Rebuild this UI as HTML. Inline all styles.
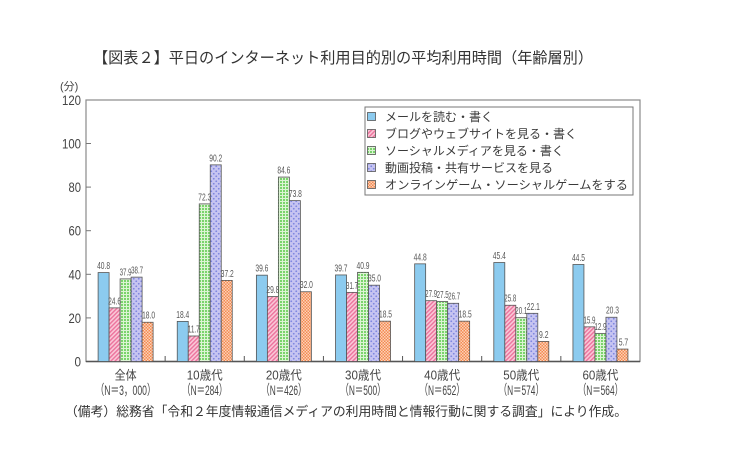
<!DOCTYPE html>
<html><head><meta charset="utf-8">
<style>
html,body{margin:0;padding:0;background:#fff;}
svg{display:block;}
text{font-family:"Liberation Sans","Noto Sans CJK JP",sans-serif;fill:#3a3a3a;}
.v{font-size:10.5px;fill:#555;text-anchor:middle;}
.yt{font-size:13.5px;fill:#444;text-anchor:end;}
.xl{font-size:12.5px;fill:#444;text-anchor:middle;}
.xn{font-size:14px;fill:#444;text-anchor:middle;}
.lg{font-size:12px;fill:#3a3a3a;}
</style></head><body>
<svg width="730" height="456" viewBox="0 0 730 456" xmlns="http://www.w3.org/2000/svg">
<defs>
<pattern id="pk" width="3" height="3" patternUnits="userSpaceOnUse" patternTransform="rotate(45)">
 <rect width="3" height="3" fill="#fac8d8"/>
 <rect width="1.4" height="3" fill="#ec729c"/>
</pattern>
<pattern id="gr" width="3" height="3" patternUnits="userSpaceOnUse">
 <rect width="3" height="3" fill="#7ad46c"/>
 <rect width="3" height="1" fill="#dcf4d4"/>
 <rect width="1" height="3" fill="#dcf4d4"/>
</pattern>
<pattern id="pu" width="5" height="5" patternUnits="userSpaceOnUse">
 <rect width="5" height="5" fill="#c6c4f1"/>
 <circle cx="1.25" cy="1.25" r="0.9" fill="#7d86e0"/>
 <circle cx="3.75" cy="3.75" r="0.9" fill="#7d86e0"/>
</pattern>
<pattern id="or" width="3" height="3" patternUnits="userSpaceOnUse">
 <rect width="3" height="3" fill="#f38a52"/>
 <rect x="0" y="0" width="1.5" height="1.5" fill="#fcd2b8"/>
 <rect x="1.5" y="1.5" width="1.5" height="1.5" fill="#fcd2b8"/>
</pattern>
</defs>

<text x="93" y="63" style="font-size:15.4px;fill:#333" textLength="500" lengthAdjust="spacingAndGlyphs">【図表２】平日のインターネット利用目的別の平均利用時間（年齢層別）</text>

<text x="60" y="90" style="font-size:11px;fill:#444">(分)</text>

<rect x="86" y="100" width="554" height="261.5" fill="none" stroke="#8a8a8a" stroke-width="1.2"/>
<line x1="86" y1="361.5" x2="640" y2="361.5" stroke="#555" stroke-width="1.5"/>

<g stroke="#777" stroke-width="1">
<line x1="86" y1="143.5" x2="91" y2="143.5"/>
<line x1="86" y1="187.1" x2="91" y2="187.1"/>
<line x1="86" y1="230.7" x2="91" y2="230.7"/>
<line x1="86" y1="274.3" x2="91" y2="274.3"/>
<line x1="86" y1="317.9" x2="91" y2="317.9"/>
</g>
<text class="yt" x="81" y="105" textLength="19" lengthAdjust="spacingAndGlyphs">120</text>
<text class="yt" x="81" y="148.5" textLength="19" lengthAdjust="spacingAndGlyphs">100</text>
<text class="yt" x="81" y="192.1" textLength="12.5" lengthAdjust="spacingAndGlyphs">80</text>
<text class="yt" x="81" y="235.7" textLength="12.5" lengthAdjust="spacingAndGlyphs">60</text>
<text class="yt" x="81" y="279.3" textLength="12.5" lengthAdjust="spacingAndGlyphs">40</text>
<text class="yt" x="81" y="322.9" textLength="12.5" lengthAdjust="spacingAndGlyphs">20</text>
<text class="yt" x="81" y="366.5" textLength="6.5" lengthAdjust="spacingAndGlyphs">0</text>

<g stroke="#555" stroke-width="1">
<line x1="165.14" y1="361.5" x2="165.14" y2="356"/>
<line x1="244.28" y1="361.5" x2="244.28" y2="356"/>
<line x1="323.42" y1="361.5" x2="323.42" y2="356"/>
<line x1="402.56" y1="361.5" x2="402.56" y2="356"/>
<line x1="481.7" y1="361.5" x2="481.7" y2="356"/>
<line x1="560.84" y1="361.5" x2="560.84" y2="356"/>
</g>

<g stroke="#555" stroke-width="0.8">
<rect x="98.1" y="272.56" width="11" height="88.94" fill="#8ccbef"/>
<rect x="109.1" y="307.87" width="11" height="53.63" fill="url(#pk)"/>
<rect x="120.1" y="278.88" width="11" height="82.62" fill="url(#gr)"/>
<rect x="131.1" y="277.13" width="11" height="84.37" fill="url(#pu)"/>
<rect x="142.1" y="322.26" width="11" height="39.24" fill="url(#or)"/>

<rect x="177.24" y="321.39" width="11" height="40.11" fill="#8ccbef"/>
<rect x="188.24" y="335.99" width="11" height="25.51" fill="url(#pk)"/>
<rect x="199.24" y="203.89" width="11" height="157.61" fill="url(#gr)"/>
<rect x="210.24" y="164.86" width="11" height="196.64" fill="url(#pu)"/>
<rect x="221.24" y="280.4" width="11" height="81.1" fill="url(#or)"/>

<rect x="256.38" y="275.17" width="11" height="86.33" fill="#8ccbef"/>
<rect x="267.38" y="296.54" width="11" height="64.96" fill="url(#pk)"/>
<rect x="278.38" y="177.07" width="11" height="184.43" fill="url(#gr)"/>
<rect x="289.38" y="200.62" width="11" height="160.88" fill="url(#pu)"/>
<rect x="300.38" y="291.74" width="11" height="69.76" fill="url(#or)"/>

<rect x="335.52" y="274.95" width="11" height="86.55" fill="#8ccbef"/>
<rect x="346.52" y="292.39" width="11" height="69.11" fill="url(#pk)"/>
<rect x="357.52" y="272.34" width="11" height="89.16" fill="url(#gr)"/>
<rect x="368.52" y="285.2" width="11" height="76.3" fill="url(#pu)"/>
<rect x="379.52" y="321.17" width="11" height="40.33" fill="url(#or)"/>

<rect x="414.66" y="263.84" width="11" height="97.66" fill="#8ccbef"/>
<rect x="425.66" y="300.68" width="11" height="60.82" fill="url(#pk)"/>
<rect x="436.66" y="301.55" width="11" height="59.95" fill="url(#gr)"/>
<rect x="447.66" y="303.29" width="11" height="58.21" fill="url(#pu)"/>
<rect x="458.66" y="321.17" width="11" height="40.33" fill="url(#or)"/>

<rect x="493.8" y="262.53" width="11" height="98.97" fill="#8ccbef"/>
<rect x="504.8" y="305.26" width="11" height="56.24" fill="url(#pk)"/>
<rect x="515.8" y="317.68" width="11" height="43.82" fill="url(#gr)"/>
<rect x="526.8" y="313.32" width="11" height="48.18" fill="url(#pu)"/>
<rect x="537.8" y="341.44" width="11" height="20.06" fill="url(#or)"/>

<rect x="572.94" y="264.49" width="11" height="97.01" fill="#8ccbef"/>
<rect x="583.94" y="326.84" width="11" height="34.66" fill="url(#pk)"/>
<rect x="594.94" y="333.38" width="11" height="28.12" fill="url(#gr)"/>
<rect x="605.94" y="317.25" width="11" height="44.25" fill="url(#pu)"/>
<rect x="616.94" y="349.07" width="11" height="12.43" fill="url(#or)"/>
</g>

<g>
<text class="v" x="103.6" y="269" textLength="13" lengthAdjust="spacingAndGlyphs">40.8</text>
<text class="v" x="114.6" y="304.3" textLength="13" lengthAdjust="spacingAndGlyphs">24.6</text>
<text class="v" x="125.6" y="275.3" textLength="12" lengthAdjust="spacingAndGlyphs">37.9</text>
<text class="v" x="137.1" y="273.6" textLength="12" lengthAdjust="spacingAndGlyphs">38.7</text>
<text class="v" x="148.6" y="318.7" textLength="13" lengthAdjust="spacingAndGlyphs">18.0</text>

<text class="v" x="182.74" y="317.8" textLength="13" lengthAdjust="spacingAndGlyphs">18.4</text>
<text class="v" x="193.74" y="332.4" textLength="12" lengthAdjust="spacingAndGlyphs">11.7</text>
<text class="v" x="204.74" y="200.3" textLength="13" lengthAdjust="spacingAndGlyphs">72.3</text>
<text class="v" x="215.74" y="161.3" textLength="13" lengthAdjust="spacingAndGlyphs">90.2</text>
<text class="v" x="227.24" y="276.8" textLength="13" lengthAdjust="spacingAndGlyphs">37.2</text>

<text class="v" x="261.88" y="271.6" textLength="13" lengthAdjust="spacingAndGlyphs">39.6</text>
<text class="v" x="272.88" y="293" textLength="13" lengthAdjust="spacingAndGlyphs">29.8</text>
<text class="v" x="283.88" y="173.5" textLength="13" lengthAdjust="spacingAndGlyphs">84.6</text>
<text class="v" x="295.38" y="197" textLength="13" lengthAdjust="spacingAndGlyphs">73.8</text>
<text class="v" x="306.38" y="288.2" textLength="13" lengthAdjust="spacingAndGlyphs">32.0</text>

<text class="v" x="341.02" y="271.4" textLength="13" lengthAdjust="spacingAndGlyphs">39.7</text>
<text class="v" x="352.02" y="288.8" textLength="12" lengthAdjust="spacingAndGlyphs">31.7</text>
<text class="v" x="363.02" y="268.8" textLength="13" lengthAdjust="spacingAndGlyphs">40.9</text>
<text class="v" x="374.52" y="281.6" textLength="13" lengthAdjust="spacingAndGlyphs">35.0</text>
<text class="v" x="385.52" y="317.6" textLength="13" lengthAdjust="spacingAndGlyphs">18.5</text>

<text class="v" x="420.16" y="260.3" textLength="13" lengthAdjust="spacingAndGlyphs">44.8</text>
<text class="v" x="431.16" y="297.1" textLength="12" lengthAdjust="spacingAndGlyphs">27.9</text>
<text class="v" x="442.66" y="298" textLength="12" lengthAdjust="spacingAndGlyphs">27.5</text>
<text class="v" x="454.16" y="299.7" textLength="12" lengthAdjust="spacingAndGlyphs">26.7</text>
<text class="v" x="465.16" y="317.6" textLength="13" lengthAdjust="spacingAndGlyphs">18.5</text>

<text class="v" x="499.3" y="259" textLength="13" lengthAdjust="spacingAndGlyphs">45.4</text>
<text class="v" x="510.3" y="301.7" textLength="12" lengthAdjust="spacingAndGlyphs">25.8</text>
<text class="v" x="521.3" y="314.1" textLength="12" lengthAdjust="spacingAndGlyphs">20.1</text>
<text class="v" x="533.3" y="309.8" textLength="13" lengthAdjust="spacingAndGlyphs">22.1</text>
<text class="v" x="543.8" y="337.9" textLength="9.5" lengthAdjust="spacingAndGlyphs">9.2</text>

<text class="v" x="578.44" y="260.9" textLength="13" lengthAdjust="spacingAndGlyphs">44.5</text>
<text class="v" x="589.44" y="323.3" textLength="12" lengthAdjust="spacingAndGlyphs">15.9</text>
<text class="v" x="600.44" y="329.8" textLength="12" lengthAdjust="spacingAndGlyphs">12.9</text>
<text class="v" x="612.44" y="313.7" textLength="13" lengthAdjust="spacingAndGlyphs">20.3</text>
<text class="v" x="623.44" y="345.5" textLength="9.5" lengthAdjust="spacingAndGlyphs">5.7</text>
</g>

<text class="xl" x="125.6" y="379.5" textLength="22" lengthAdjust="spacingAndGlyphs">全体</text>
<text class="xn" x="125.6" y="395" textLength="60" lengthAdjust="spacingAndGlyphs">（N＝3，000）</text>
<text class="xl" x="204.74" y="379.5" textLength="36" lengthAdjust="spacingAndGlyphs">10歳代</text>
<text class="xn" x="204.74" y="395" textLength="45" lengthAdjust="spacingAndGlyphs">（N＝284）</text>
<text class="xl" x="283.88" y="379.5" textLength="36" lengthAdjust="spacingAndGlyphs">20歳代</text>
<text class="xn" x="283.88" y="395" textLength="45" lengthAdjust="spacingAndGlyphs">（N＝426）</text>
<text class="xl" x="363.02" y="379.5" textLength="36" lengthAdjust="spacingAndGlyphs">30歳代</text>
<text class="xn" x="363.02" y="395" textLength="45" lengthAdjust="spacingAndGlyphs">（N＝500）</text>
<text class="xl" x="442.16" y="379.5" textLength="36" lengthAdjust="spacingAndGlyphs">40歳代</text>
<text class="xn" x="442.16" y="395" textLength="45" lengthAdjust="spacingAndGlyphs">（N＝652）</text>
<text class="xl" x="521.3" y="379.5" textLength="36" lengthAdjust="spacingAndGlyphs">50歳代</text>
<text class="xn" x="521.3" y="395" textLength="45" lengthAdjust="spacingAndGlyphs">（N＝574）</text>
<text class="xl" x="600.44" y="379.5" textLength="36" lengthAdjust="spacingAndGlyphs">60歳代</text>
<text class="xn" x="600.44" y="395" textLength="45" lengthAdjust="spacingAndGlyphs">（N＝564）</text>

<rect x="365" y="107" width="268" height="88" fill="#fff" stroke="#777" stroke-width="1"/>
<g stroke="#555" stroke-width="0.8">
<rect x="367.5" y="112.5" width="8" height="8" fill="#8ccbef"/>
<rect x="367.5" y="129.5" width="8" height="8" fill="url(#pk)"/>
<rect x="367.5" y="146.5" width="8" height="8" fill="url(#gr)"/>
<rect x="367.5" y="163.5" width="8" height="8" fill="url(#pu)"/>
<rect x="367.5" y="180.5" width="8" height="8" fill="url(#or)"/>
</g>
<text class="lg" x="385" y="121">メールを読む・書く</text>
<text class="lg" x="385" y="138">ブログやウェブサイトを見る・書く</text>
<text class="lg" x="385" y="155">ソーシャルメディアを見る・書く</text>
<text class="lg" x="385" y="172">動画投稿・共有サービスを見る</text>
<text class="lg" x="385" y="189" textLength="243" lengthAdjust="spacingAndGlyphs">オンラインゲーム・ソーシャルゲームをする</text>

<text x="65" y="416" style="font-size:12.8px;fill:#333" textLength="562" lengthAdjust="spacingAndGlyphs">（備考）総務省「令和２年度情報通信メディアの利用時間と情報行動に関する調査」により作成。</text>
</svg>
</body></html>
